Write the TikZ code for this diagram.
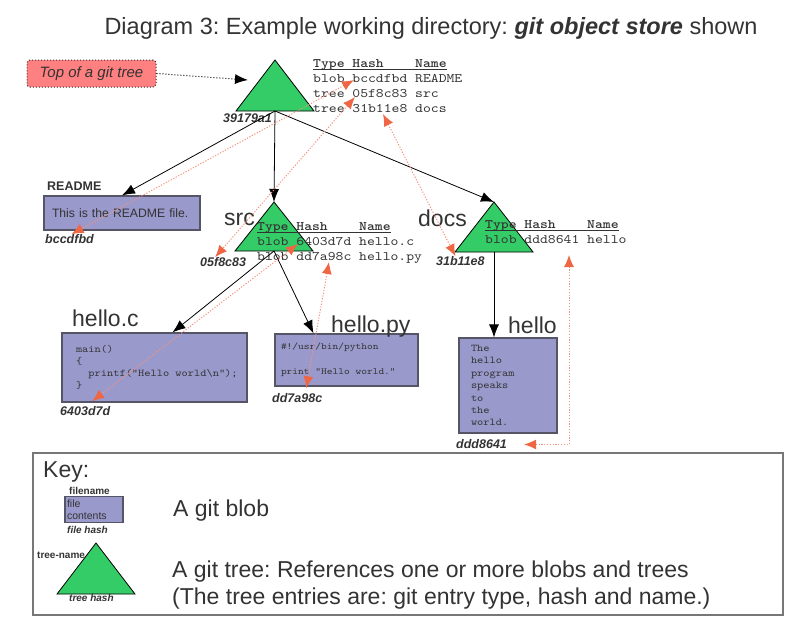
\documentclass[tikz,border=0pt]{standalone}
\usepackage{fontspec}
\setmainfont{Liberation Sans}
\setmonofont{lmmono10-regular.otf}[BoldFont=lmmonolt10-bold.otf,FakeStretch=1.15]
\usetikzlibrary{arrows.meta,calc}
\frenchspacing

\definecolor{treegreen}{HTML}{33CC66}
\definecolor{blobfill}{HTML}{9999CC}
\definecolor{blobline}{HTML}{555566}
\definecolor{linkred}{HTML}{EE6644}
\definecolor{notefill}{HTML}{FF8080}
\definecolor{inkgray}{HTML}{333333}
\definecolor{keyline}{HTML}{777777}

\newcommand\treehead{\setbox0\hbox{\bfseries Type Hash~~~~Name}\rlap{\rule[-1.6pt]{\wd0}{0.7pt}}\box0}

\begin{document}
\begin{tikzpicture}[x=1pt,y=-1pt,
  gittree/.style={fill=treegreen,draw=black,line width=0.8pt},
  blob/.style={draw=blobline,fill=blobfill,line width=1.2pt,align=left,text=inkgray,font=\ttfamily\fontsize{10.3}{12}\selectfont},
  fname/.style={inner sep=0pt,anchor=west,text=inkgray,font=\fontsize{23}{27}\selectfont},
  hashlbl/.style={inner sep=0pt,anchor=west,text=inkgray,font=\bfseries\itshape\fontsize{12.5}{14}\selectfont},
  smalllbl/.style={inner sep=0pt,anchor=west,text=inkgray,font=\bfseries\fontsize{10}{12}\selectfont},
  entries/.style={inner sep=0pt,anchor=north west,align=left,text=inkgray,font=\ttfamily\fontsize{13}{15}\selectfont},
  ptr/.style={-{Latex[length=13pt,width=10pt]},line width=0.8pt},
  hashlink/.style={draw=linkred!70,line width=1pt,dash pattern=on 1.2pt off 1.6pt,
    {Latex[length=12pt,width=10pt,color=linkred]}-{Latex[length=12pt,width=10pt,color=linkred]}},
]
\useasboundingbox (0,0) rectangle (800,621);

% title
\node[text=inkgray,font=\fontsize{23.5}{27}\selectfont] (title) at (431,28)
  {Diagram 3: Example working directory: \textbf{\textit{git object store}} shown};

% trees
\foreach \n/\x/\y/\h in {top/275/60/51, src/274/202/49, docs/494/202/50, key/96/543/51}
{
  \coordinate (\n-apex) at (\x,\y);
  \coordinate (\n-base) at (\x,\y+\h);
  \draw[gittree] (\n-apex) -- ($(\n-base)+(-39,0)$) -- ($(\n-base)+(39,0)$) -- cycle;
}

% tree entries
\node[entries] (toptbl) at (313,59.5) {\treehead\\blob bccdfbd README\\tree 05f8c83 src\\tree 31b11e8 docs};
\node[entries] (srctbl) at (257,222.5) {\treehead\\blob 6403d7d hello.c\\blob dd7a98c hello.py};
\node[entries] (docstbl) at (485,220.5) {\treehead\\blob ddd8641 hello};

\node[hashlbl] (top-hash) at (223,118) {39179a1};
\node[fname] (src-name) at (224,219) {src};
\node[hashlbl] (src-hash) at (200,262) {05f8c83};
\node[fname] (docs-name) at (418,218.5) {docs};
\node[hashlbl] (docs-hash) at (436,261) {31b11e8};

% callout
\node[draw=inkgray,dotted,line width=1pt,fill=notefill,rounded corners=3pt,minimum width=129pt,minimum height=27pt,
  text=inkgray,font=\itshape\fontsize{15}{17}\selectfont] (note) at (91.5,73.5) {Top of a git tree};
\coordinate (note-tip) at (248,80);
\draw[dotted,line width=1pt,-{Latex[length=13pt,width=10pt]}] (note.east) -- (note-tip);

% blobs
\node[blob,minimum height=34pt,text width=140pt,inner xsep=8pt,font=\fontsize{12.2}{14}\selectfont] (readme) at (122,213)
  {This is the README file.};
\node[smalllbl,font=\bfseries\fontsize{12.5}{14}\selectfont] (readme-name) at (47,186.5) {README};
\node[hashlbl] (readme-hash) at (45,239) {bccdfbd};

\node[blob,minimum height=69pt,text width=157pt,inner xsep=14pt] (helloc) at (154.5,367.5)
  {main()\\\{\\\mbox{\phantom{xx}}printf("Hello\mbox{\phantom{x}}world\textbackslash n");\\\}};
\node[fname] (helloc-name) at (72,318.5) {hello.c};
\node[hashlbl] (helloc-hash) at (60,411) {6403d7d};

\node[blob,minimum height=52pt,text width=131pt,inner xsep=6pt,font=\ttfamily\fontsize{9.5}{12.5}\selectfont] (hellopy) at (346.5,360)
  {\#!/usr/bin/python\\[12.5pt]print\mbox{\phantom{x}}"Hello\mbox{\phantom{x}}world."};
\node[fname] (hellopy-name) at (331,327) {hello.py};
\node[hashlbl] (hellopy-hash) at (272,398) {dd7a98c};

\node[blob,minimum height=95pt,text width=74pt,inner xsep=12pt,font=\ttfamily\fontsize{10.3}{12.4}\selectfont] (hello) at (508,385.5)
  {The\\hello\\program\\speaks\\to\\the\\world.};
\node[fname] (hello-name) at (508,325.5) {hello};
\node[hashlbl] (hello-hash) at (456,444.5) {ddd8641};

% tree pointers
\draw[ptr] (top-base) -- (readme.north);
\draw[ptr] (top-base) -- (src-apex);
\draw[ptr] (top-base) -- (docs-apex);
\draw[ptr] (src-base) -- ([xshift=18pt]helloc.north);
\draw[ptr] (src-base) -- ([xshift=-33pt]hellopy.north);
\draw[ptr] (docs-base) -- (docs-base |- hello.north);

% hash links
\coordinate (readme-ref) at (354,80);
\coordinate (src-ref) at (355,97);
\coordinate (docs-ref) at (383,114);
\coordinate (helloc-ref) at (298,244);
\coordinate (hellopy-ref) at (329,262);
\coordinate (hello-ref) at (569,255);
\draw[hashlink] (readme-ref) -- ([xshift=2pt]readme-hash.north);
\draw[hashlink] (src-ref) -- ([xshift=-8pt]src-hash.north);
\draw[hashlink] (docs-ref) -- ([xshift=-5pt]docs-hash.north);
\draw[hashlink] (helloc-ref) -- ([xshift=7pt,yshift=5pt]helloc-hash.north);
\draw[hashlink] (hellopy-ref) -- ([xshift=9pt,yshift=5pt]hellopy-hash.north);
\draw[hashlink] (hello-ref) |- ([xshift=17pt]hello-hash.east);

% key
\node[draw=keyline,line width=1.5pt,minimum width=750pt,minimum height=162pt] (keyframe) at (408,534) {};
\node[fname] (key-title) at (43,471.5) {Key:};
\node[smalllbl] (key-filename) at (69,491) {filename};
\node[blob,minimum height=25pt,text width=54pt,inner xsep=2pt,font=\fontsize{10.5}{12}\selectfont] (key-blob) at (94,509.5)
  {file\\contents};
\node[smalllbl,font=\bfseries\itshape\fontsize{10}{12}\selectfont] (key-filehash) at (67,530) {file hash};
\node[smalllbl] (key-treename) at (37,555) {tree-name};
\node[smalllbl,font=\bfseries\itshape\fontsize{10}{12}\selectfont] (key-treehash) at (69,598) {tree hash};
\node[fname] (blob-desc) at (173,511) {A git blob};
\node[fname,anchor=north west,align=left,font=\fontsize{23}{27}\selectfont] (tree-desc) at (172,561)
  {A git tree: References one or more blobs and trees\\(The tree entries are: git entry type, hash and name.)};
\end{tikzpicture}
\end{document}
